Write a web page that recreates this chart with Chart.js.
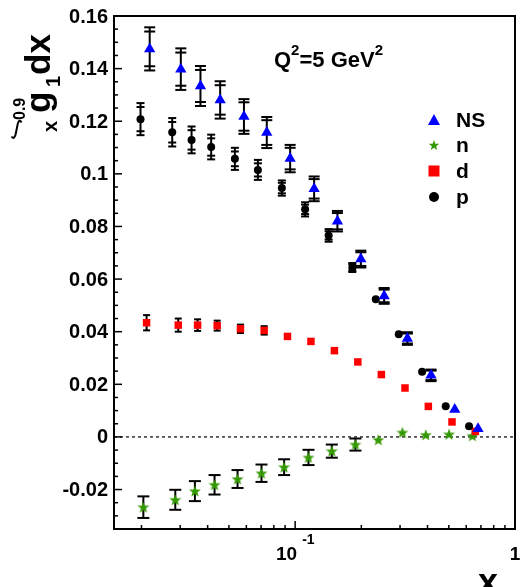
<!DOCTYPE html>
<html>
<head>
<meta charset="utf-8">
<script src="https://cdn.jsdelivr.net/npm/chart.js@4.4.1/dist/chart.umd.min.js"></script>
<style>
html,body{margin:0;padding:0;background:#fff;}
#wrap{width:530px;height:587px;}
</style>
</head>
<body>
<div id="wrap"><canvas id="c" width="530" height="587"></canvas></div>
<script>
// ---- data ----
const nsX = [0.0218, 0.0302, 0.0371, 0.0456, 0.0585, 0.0743, 0.0949, 0.122, 0.1557, 0.199, 0.254, 0.324, 0.415, 0.532, 0.679];
const nsY = [0.1475, 0.1398, 0.1334, 0.1281, 0.1218, 0.1157, 0.1058, 0.0943, 0.0820, 0.0676, 0.0536, 0.0374, 0.0234, 0.0104, 0.0031];
const nsTot = [0.0082, 0.0079, 0.0076, 0.0071, 0.0066, 0.0059, 0.0052, 0.0047, 0.0039, 0.0032, 0.0030, 0.0024, 0.0022, 0.0015, 0.0010];
const nsStat = [0.0066, 0.0063, 0.0061, 0.0056, 0.0054, 0.0047, 0.0041, 0.0037, 0.0031, 0.0026, 0.0024, 0.0019, 0.0018, 0.0012, 0.0008];

const pX = [0.0198, 0.0276, 0.0338, 0.0415, 0.0532, 0.0677, 0.087, 0.111, 0.142, 0.182, 0.2327, 0.296, 0.378, 0.484, 0.618];
const pY = [0.1208, 0.1158, 0.1129, 0.1102, 0.1057, 0.1015, 0.0946, 0.0865, 0.0766, 0.0644, 0.0523, 0.0390, 0.0248, 0.0117, 0.0041];
const pTot = [0.0061, 0.0054, 0.0051, 0.0047, 0.0042, 0.0038, 0.0029, 0.0027, 0.0024, 0.0017, 0.0014, 0.0009, 0.0008, 0.0006, 0.0004];
const pStat = [0.0046, 0.0039, 0.0037, 0.0033, 0.0028, 0.0025, 0.0020, 0.0018, 0.0016, 0.0012, 0.0010, 0.0007, 0.0006, 0.0004, 0.0003];

const dX = [0.0211, 0.0294, 0.036, 0.0442, 0.0564, 0.0723, 0.0923, 0.118, 0.1509, 0.1928, 0.2467, 0.316, 0.4035, 0.517, 0.66];
const dY = [0.0434, 0.0425, 0.0425, 0.0423, 0.0411, 0.0405, 0.0382, 0.0363, 0.0328, 0.0285, 0.0237, 0.0186, 0.0116, 0.0057, 0.0021];
const dErr = [0.0029, 0.0025, 0.0022, 0.0019, 0.0016, 0.0016, 0.0014, 0.0010, 0.0008, 0.0007, 0.0006, 0.0005, 0.0004, 0.0003, 0.0002];

const nX = [0.0204, 0.0285, 0.035, 0.043, 0.0547, 0.0703, 0.0891, 0.115, 0.1468, 0.188, 0.239, 0.3075, 0.3927, 0.501, 0.64];
const nY = [-0.0267, -0.0239, -0.0206, -0.0182, -0.0160, -0.0138, -0.0115, -0.0078, -0.0054, -0.0029, -0.0011, 0.0017, 0.0008, 0.0010, 0.0004];
const nErr = [0.0041, 0.0038, 0.0038, 0.0037, 0.0034, 0.0033, 0.0030, 0.0029, 0.0025, 0.0023, 0.0010, 0.0008, 0.0006, 0.0005, 0.0003];

const legendLabels = ["NS", "n", "d", "p"];
const yTickValues = [0.16, 0.14, 0.12, 0.10, 0.08, 0.06, 0.04, 0.02, 0, -0.02];
const yTickLabels = ["0.16", "0.14", "0.12", "0.1", "0.08", "0.06", "0.04", "0.02", "0", "-0.02"];
const xMajorTicks = [0.1, 1];
const xMinorTicks = [0.02,0.03,0.04,0.05,0.06,0.07,0.08,0.09,0.2,0.3,0.4,0.5,0.6,0.7,0.8,0.9];

const BLUE = '#0000ff', GREEN = '#339900', RED = '#ff0000', BLACK = '#000000';
const FONT = '"Liberation Sans", Arial, Helvetica, sans-serif';

function starPath(ctx, cx, cy, R, r) {
  ctx.beginPath();
  for (let i = 0; i < 10; i++) {
    const a = -Math.PI / 2 + i * Math.PI / 5;
    const rad = (i % 2 === 0) ? R : r;
    const x = cx + rad * Math.cos(a), y = cy + rad * Math.sin(a);
    if (i === 0) ctx.moveTo(x, y); else ctx.lineTo(x, y);
  }
  ctx.closePath();
}
function makeStar(size, R, r, color) {
  const cv = document.createElement('canvas');
  cv.width = size; cv.height = size;
  const c = cv.getContext('2d');
  c.fillStyle = color;
  starPath(c, size / 2, size / 2 + 0.5, R, r);
  c.fill();
  return cv;
}
const starImg = makeStar(14, 6.3, 2.6, GREEN);

function pts(xs, ys) { return xs.map((x, i) => ({x: x, y: ys[i]})); }

const errorSpec = [
  {xs: nsX, ys: nsY, tot: nsTot, stat: nsStat, cap: 5.5},
  {xs: pX, ys: pY, tot: pTot, stat: pStat, cap: 4},
  {xs: dX, ys: dY, tot: dErr, stat: null, cap: 3.5},
  {xs: nX, ys: nY, tot: nErr, stat: null, cap: 6}
];

const rootPlugin = {
  id: 'rootStyle',
  beforeDatasetsDraw(chart) {
    const ctx = chart.ctx, xs = chart.scales.x, ys = chart.scales.y, a = chart.chartArea;
    ctx.save();
    // dotted zero line
    ctx.strokeStyle = '#333';
    ctx.lineWidth = 1.5;
    ctx.setLineDash([3, 3]);
    const y0 = ys.getPixelForValue(0);
    ctx.beginPath(); ctx.moveTo(a.left, y0); ctx.lineTo(a.right, y0); ctx.stroke();
    ctx.setLineDash([]);
    // error bars
    ctx.strokeStyle = BLACK;
    ctx.lineWidth = 2;
    errorSpec.forEach(s => {
      s.xs.forEach((xv, i) => {
        const px = xs.getPixelForValue(xv);
        const top = ys.getPixelForValue(s.ys[i] + s.tot[i]);
        const bot = ys.getPixelForValue(s.ys[i] - s.tot[i]);
        if (bot - top < 8) return;
        ctx.beginPath(); ctx.moveTo(px, top); ctx.lineTo(px, bot); ctx.stroke();
        const caps = [top, bot];
        if (s.stat) {
          caps.push(ys.getPixelForValue(s.ys[i] + s.stat[i]));
          caps.push(ys.getPixelForValue(s.ys[i] - s.stat[i]));
        }
        caps.forEach(cy => {
          ctx.beginPath(); ctx.moveTo(px - s.cap, cy); ctx.lineTo(px + s.cap, cy); ctx.stroke();
        });
      });
    });
    ctx.restore();
  },
  afterDatasetsDraw(chart) {
    const ctx = chart.ctx, xs = chart.scales.x, ys = chart.scales.y, a = chart.chartArea;
    ctx.save();
    // frame
    ctx.strokeStyle = BLACK;
    ctx.lineWidth = 2;
    ctx.strokeRect(a.left, a.top, a.right - a.left, a.bottom - a.top);
    // y ticks
    ctx.lineWidth = 1.5;
    for (let k = 0; k <= 39; k++) {
      const v = -0.035 + k * 0.005;
      const py = ys.getPixelForValue(v);
      if (py < a.top - 0.5 || py > a.bottom + 0.5) continue;
      const major = Math.abs(Math.round(v / 0.02) * 0.02 - v) < 1e-6;
      ctx.beginPath(); ctx.moveTo(a.left, py); ctx.lineTo(a.left + (major ? 8 : 4), py); ctx.stroke();
    }
    // x ticks
    xMajorTicks.forEach(v => {
      const px = xs.getPixelForValue(v);
      ctx.beginPath(); ctx.moveTo(px, a.bottom); ctx.lineTo(px, a.bottom - 8); ctx.stroke();
    });
    xMinorTicks.forEach(v => {
      const px = xs.getPixelForValue(v);
      ctx.beginPath(); ctx.moveTo(px, a.bottom); ctx.lineTo(px, a.bottom - 4); ctx.stroke();
    });
    // y tick labels
    ctx.fillStyle = BLACK;
    ctx.font = 'bold 20px ' + FONT;
    ctx.textAlign = 'right';
    ctx.textBaseline = 'middle';
    yTickValues.forEach((v, i) => {
      ctx.fillText(yTickLabels[i], a.left - 6, ys.getPixelForValue(v) + 1);
    });
    // x tick labels
    ctx.textBaseline = 'alphabetic';
    const p01 = xs.getPixelForValue(0.1);
    ctx.font = 'bold 19px ' + FONT;
    ctx.textAlign = 'right';
    ctx.fillText('10', p01 + 2, 560);
    ctx.font = 'bold 14px ' + FONT;
    ctx.textAlign = 'left';
    ctx.fillText('-1', p01 + 7, 544);
    ctx.font = 'bold 19px ' + FONT;
    ctx.textAlign = 'center';
    ctx.fillText('1', xs.getPixelForValue(1), 560);
    // x title
    ctx.font = 'bold 36px ' + FONT;
    ctx.textAlign = 'right';
    ctx.fillText('x', 498, 594);
    // y title (rotated)
    ctx.save();
    ctx.translate(0, 138);
    ctx.rotate(-Math.PI / 2);
    ctx.textAlign = 'left';
    ctx.textBaseline = 'alphabetic';
    ctx.font = 'bold 20px ' + FONT;
    ctx.fillText('x', 6, 57);
    ctx.font = 'bold 16px ' + FONT;
    ctx.fillText('0.9', 18, 25);
    ctx.font = 'bold 35px ' + FONT;
    ctx.fillText('g', 25, 50);
    ctx.font = 'bold 20px ' + FONT;
    ctx.fillText('1', 51, 60);
    ctx.font = 'bold 35px ' + FONT;
    ctx.fillText('dx', 63, 50);
    ctx.restore();
    // integral sign (upright, as in the reference)
    ctx.strokeStyle = BLACK;
    ctx.lineWidth = 2;
    ctx.beginPath();
    ctx.moveTo(21.5, 122.5);
    ctx.quadraticCurveTo(19.5, 118.5, 17.8, 123.5);
    ctx.lineTo(15.6, 134.5);
    ctx.quadraticCurveTo(14, 140, 11.5, 136.5);
    ctx.stroke();
    // Q^2 label
    ctx.textAlign = 'left';
    ctx.textBaseline = 'alphabetic';
    let xx = 274;
    const seg = (t, f, y) => { ctx.font = f; ctx.fillText(t, xx, y); xx += ctx.measureText(t).width; };
    seg('Q', 'bold 22px ' + FONT, 67);
    seg('2', 'bold 15px ' + FONT, 55);
    seg('=5 GeV', 'bold 22px ' + FONT, 67);
    seg('2', 'bold 15px ' + FONT, 55);
    // legend
    const lx = 434, ly = [120, 145, 171, 197];
    ctx.fillStyle = BLUE;
    ctx.beginPath(); ctx.moveTo(lx, ly[0] - 6); ctx.lineTo(lx + 6, ly[0] + 5); ctx.lineTo(lx - 6, ly[0] + 5); ctx.closePath(); ctx.fill();
    ctx.fillStyle = GREEN;
    starPath(ctx, lx, ly[1] + 0.5, 5.5, 2.3); ctx.fill();
    ctx.fillStyle = RED;
    ctx.fillRect(lx - 5.5, ly[2] - 5.5, 11, 11);
    ctx.fillStyle = BLACK;
    ctx.beginPath(); ctx.arc(lx, ly[3], 5, 0, Math.PI * 2); ctx.fill();
    ctx.font = 'bold 21px ' + FONT;
    ctx.textBaseline = 'middle';
    ctx.textAlign = 'left';
    legendLabels.forEach((t, i) => ctx.fillText(t, 456, ly[i] + 1));
    ctx.restore();
  }
};

new Chart(document.getElementById('c'), {
  type: 'scatter',
  data: {
    datasets: [
      {label: 'NS', data: pts(nsX, nsY), pointStyle: 'triangle', pointRadius: 6.5, backgroundColor: BLUE, borderColor: BLUE, borderWidth: 0, showLine: false},
      {label: 'p', data: pts(pX, pY), pointStyle: 'circle', pointRadius: 4, backgroundColor: BLACK, borderColor: BLACK, borderWidth: 0, showLine: false},
      {label: 'd', data: pts(dX, dY), pointStyle: 'rect', pointRadius: 5.3, backgroundColor: RED, borderColor: RED, borderWidth: 0, showLine: false},
      {label: 'n', data: pts(nX, nY), pointStyle: starImg, pointRadius: 7, backgroundColor: GREEN, borderColor: GREEN, borderWidth: 0, showLine: false}
    ]
  },
  options: {
    responsive: false,
    devicePixelRatio: 1,
    animation: false,
    events: [],
    layout: {padding: {left: 114, top: 16, right: 15, bottom: 58}},
    plugins: {legend: {display: false}, tooltip: {enabled: false}},
    scales: {
      x: {type: 'logarithmic', min: 0.015, max: 1, display: false},
      y: {type: 'linear', min: -0.035, max: 0.16, display: false}
    }
  },
  plugins: [rootPlugin]
});
</script>
</body>
</html>
